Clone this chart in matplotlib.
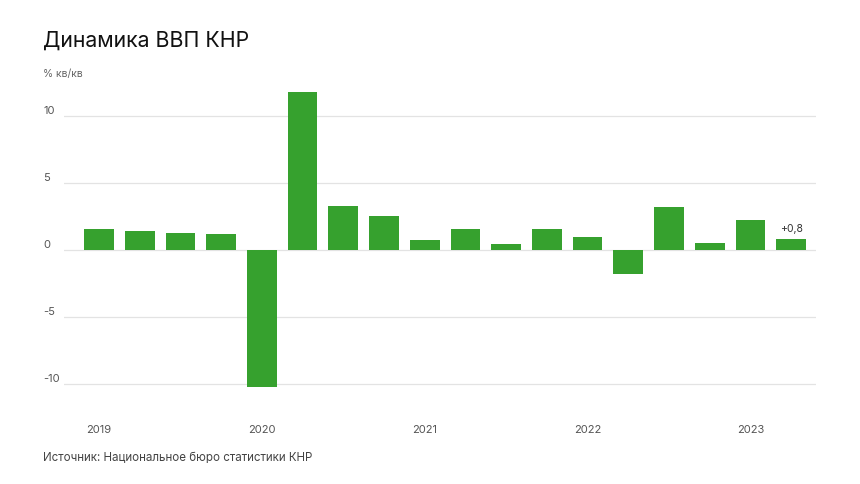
import matplotlib
matplotlib.use("Agg")
import matplotlib.pyplot as plt
import matplotlib.transforms as mtransforms

# Data: China GDP, % q/q, 2019Q1 - 2023Q2
quarters = ["2019Q1", "2019Q2", "2019Q3", "2019Q4",
            "2020Q1", "2020Q2", "2020Q3", "2020Q4",
            "2021Q1", "2021Q2", "2021Q3", "2021Q4",
            "2022Q1", "2022Q2", "2022Q3", "2022Q4",
            "2023Q1", "2023Q2"]
gdp_qq = [1.6, 1.4, 1.3, 1.2,
          -10.2, 11.8, 3.3, 2.5,
          0.75, 1.6, 0.45, 1.6,
          1.0, -1.8, 3.2, 0.55,
          2.2, 0.8]
year_labels = ["2019", "2020", "2021", "2022", "2023"]
year_pos = [0, 4, 8, 12, 16]
y_ticks = [-10, -5, 0, 5, 10]

plt.rcParams["font.family"] = ["Inter", "DejaVu Sans"]
plt.rcParams["axes.unicode_minus"] = False

green = "#36a12e"
grid_col = "#e3e3e3"

fig = plt.figure(figsize=(8.6, 4.84), dpi=100)
ax = fig.add_axes([64 / 860, (484 - 392) / 484, 752 / 860, (392 - 86.5) / 484])

x = list(range(len(gdp_qq)))
ax.bar(x, gdp_qq, width=0.73, color=green, zorder=3)

ax.set_xlim(-0.86, len(gdp_qq) - 1 + 0.61)
ax.set_ylim(-10.6, 12.2)

# grid
ax.set_yticks(y_ticks)
ax.set_yticklabels([str(v) for v in y_ticks])
ax.grid(axis="y", color=grid_col, linewidth=0.9, zorder=0)
ax.tick_params(axis="y", length=0, pad=14.8, labelsize=8, labelcolor="#555555")
for lab in ax.get_yticklabels():
    lab.set_horizontalalignment("left")
    lab.set_transform(lab.get_transform() + mtransforms.ScaledTranslation(0, 4 / 72, fig.dpi_scale_trans))

ax.set_xticks(year_pos)
ax.set_xticklabels(year_labels)
ax.tick_params(axis="x", length=0, pad=24, labelsize=8, labelcolor="#555555")

for s in ax.spines.values():
    s.set_visible(False)

# label on last bar
ax.annotate("+0,8", xy=(x[-1], gdp_qq[-1]), xytext=(0, 3.5), textcoords="offset points",
            ha="center", va="bottom", fontsize=7.5, color="#333333")

# titles
fig.text(43 / 860, 1 - 47 / 484, "Динамика ВВП КНР", fontsize=15.3, color="#111111", va="baseline")
fig.text(43 / 860, 1 - 74 / 484, "% кв/кв", fontsize=7.5, color="#666666", va="center")
fig.text(43 / 860, 1 - 461 / 484, "Источник: Национальное бюро статистики КНР",
         fontsize=8.3, color="#444444", va="baseline")

fig.savefig("out.png", dpi=100)
